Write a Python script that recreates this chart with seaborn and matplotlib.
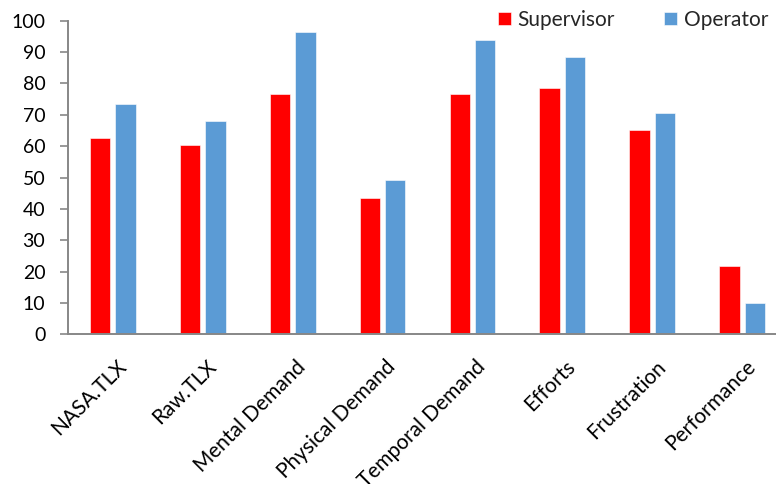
import matplotlib
matplotlib.use("Agg")
import matplotlib.pyplot as plt
import matplotlib.transforms as mtransforms
import seaborn as sns
import pandas as pd

# NASA-TLX workload scores per dimension
categories = ["NASA.TLX", "Raw.TLX", "Mental Demand", "Physical Demand",
              "Temporal Demand", "Efforts", "Frustration", "Performance"]
supervisor = [62.6, 60.3, 76.6, 43.4, 76.6, 78.4, 65.1, 21.9]
operator = [73.4, 67.9, 96.3, 49.1, 93.7, 88.3, 70.7, 9.9]
groups = ["Supervisor", "Operator"]
y_ticks = list(range(0, 101, 10))

df = pd.DataFrame({
    "category": categories * 2,
    "score": supervisor + operator,
    "group": [groups[0]] * len(categories) + [groups[1]] * len(categories),
})

sns.set_theme(style="white")
plt.rcParams["font.family"] = ["Lato", "DejaVu Sans"]

fig = plt.figure(figsize=(7.76, 4.84), dpi=100)
ax = fig.add_axes([0.0876, 0.3093, 0.9266, 0.6479])

sns.barplot(data=df, x="category", y="score", hue="group", order=categories,
            hue_order=groups, palette=["#FF0000", "#5B9BD5"],
            width=0.567, gap=0.2, ax=ax, legend=True, saturation=1,
            edgecolor="white", linewidth=0.4)

ax.set_xlim(-0.5, 7.5)
ax.set_ylim(0, 100)
ax.set_yticks(y_ticks)
ax.set_xlabel("")
ax.set_ylabel("")

for side in ["top", "right"]:
    ax.spines[side].set_visible(False)
for side in ["left", "bottom"]:
    ax.spines[side].set_color("#878787")
    ax.spines[side].set_linewidth(1.4)

ax.tick_params(axis="y", which="both", left=True, length=5.8, width=1.2,
               color="#878787", pad=10.5, labelsize=14, labelcolor="black")
ax.tick_params(axis="x", bottom=False, labelsize=15, labelcolor="black", pad=10)
shift = mtransforms.ScaledTranslation(3 / 100, 0, fig.dpi_scale_trans)
for lbl in ax.get_xticklabels():
    lbl.set_rotation(45)
    lbl.set_ha("right")
    lbl.set_rotation_mode("anchor")
    lbl.set_transform(lbl.get_transform() + shift)

handles, labels = ax.get_legend_handles_labels()
ax.get_legend().remove()
fig.legend(handles, labels, loc="center right",
           bbox_to_anchor=(768 / 776, 1 - 20 / 484), ncol=2, frameon=False,
           fontsize=15, handlelength=0.62, handleheight=0.62,
           handletextpad=0.3, columnspacing=2.4, borderpad=0,
           borderaxespad=0)

fig.savefig("out.png", dpi=100)
